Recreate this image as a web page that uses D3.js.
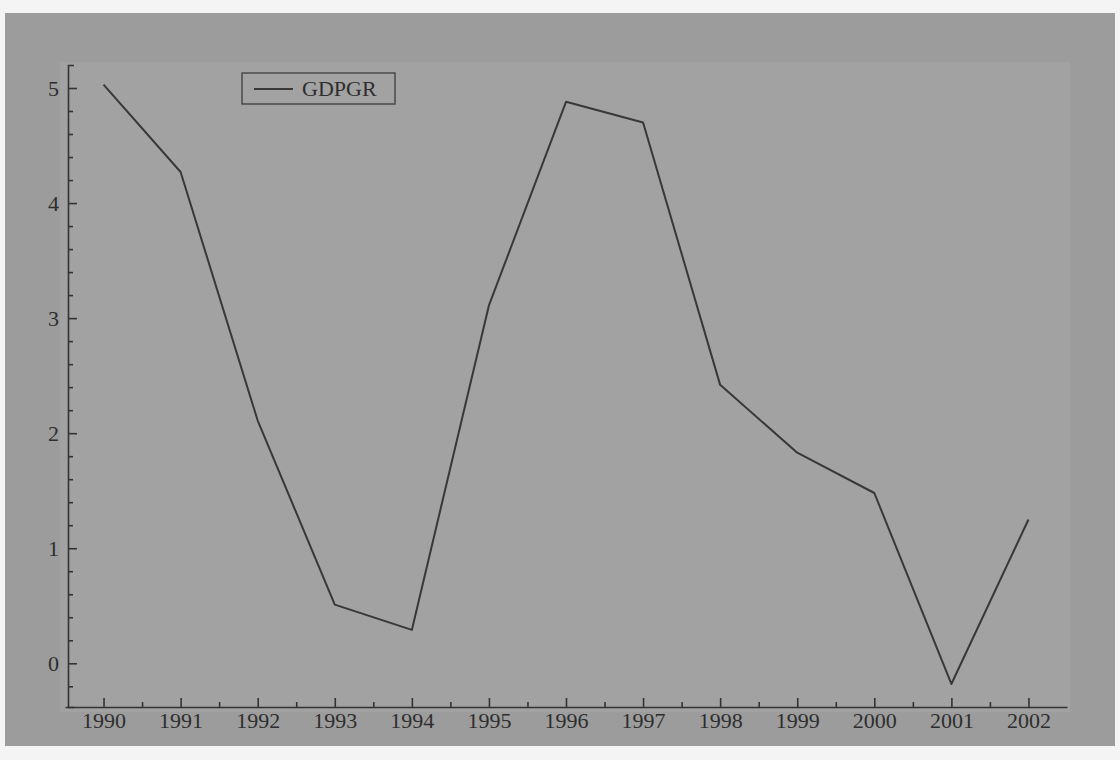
<!DOCTYPE html>
<html>
<head>
<meta charset="utf-8">
<script src="https://cdn.jsdelivr.net/npm/d3@7"></script>
<style>
  body { margin: 0; background: #f4f4f4; }
  svg text { font-family: "Liberation Serif", "DejaVu Serif", serif; fill: #2e2e2e; }
</style>
</head>
<body>
<div id="container"></div>
<script>
/* DATA */
const years = [1990, 1991, 1992, 1993, 1994, 1995, 1996, 1997, 1998, 1999, 2000, 2001, 2002];
const gdpgr = [5.03, 4.27, 2.11, 0.51, 0.29, 3.11, 4.88, 4.70, 2.42, 1.83, 1.48, -0.18, 1.25];
const seriesName = "GDPGR";
const yTicks = [0, 1, 2, 3, 4, 5];

/* CONSTANTS */
const width = 1120,
  height = 760,
  plot = { left: 68, right: 1070, top: 65, bottom: 707 };

const svg = d3.select("#container")
  .append("svg")
  .attr("width", width)
  .attr("height", height);

// scanned page background
svg.append("rect")
  .attr("x", 5).attr("y", 13)
  .attr("width", 1110).attr("height", 733)
  .attr("fill", "#9c9c9c");
svg.append("rect")
  .attr("x", 60).attr("y", 62)
  .attr("width", 1010).attr("height", 650)
  .attr("fill", "#a2a2a2");

/* SCALES */
const xScale = d3.scaleLinear()
  .domain([1989.5, 2002.5])
  .range([plot.left - 3, plot.right - 3]);

const yScale = d3.scaleLinear()
  .domain([-0.38, 5.2])
  .range([plot.bottom, plot.top]);

// x axis, ticks pointing inward
svg.append("g")
  .attr("transform", `translate(0, ${plot.bottom})`)
  .call(d3.axisBottom(xScale)
    .tickValues(years)
    .tickSize(-9)
    .tickSizeOuter(0)
    .tickPadding(5)
    .tickFormat(d3.format("d")));

svg.append("g")
  .attr("transform", `translate(0, ${plot.bottom})`)
  .call(d3.axisBottom(xScale)
    .tickValues(years.slice(0, -1).map(d => d + 0.5))
    .tickSize(-5)
    .tickSizeOuter(0)
    .tickFormat(""))
  .select(".domain").remove();

// y axis
svg.append("g")
  .attr("transform", `translate(${plot.left}, 0)`)
  .call(d3.axisLeft(yScale)
    .tickValues(yTicks)
    .tickSize(-9)
    .tickSizeOuter(-6)
    .tickPadding(9)
    .tickFormat(d3.format("d")));

svg.append("g")
  .attr("transform", `translate(${plot.left}, 0)`)
  .call(d3.axisLeft(yScale)
    .tickValues(d3.range(-0.2, 5.2, 0.2).filter(v => Math.abs(v - Math.round(v)) > 0.05))
    .tickSize(-5)
    .tickSizeOuter(0)
    .tickFormat(""))
  .select(".domain").remove();

svg.selectAll(".domain, .tick line")
  .attr("stroke", "#333")
  .attr("stroke-width", 1.6);

svg.selectAll(".tick text")
  .style("font-size", "22px")
  .style("font-family", "'Liberation Serif', serif")
  .attr("fill", "#2e2e2e");

/* LINE */
const line = d3.line()
  .x((d, i) => xScale(years[i]))
  .y(d => yScale(d));

svg.append("path")
  .datum(gdpgr)
  .attr("fill", "none")
  .attr("stroke", "#383838")
  .attr("stroke-width", 2)
  .attr("stroke-linejoin", "round")
  .attr("d", line);

/* LEGEND */
const legend = svg.append("g").attr("transform", "translate(242, 73)");
legend.append("rect")
  .attr("width", 153).attr("height", 31)
  .attr("fill", "none")
  .attr("stroke", "#444")
  .attr("stroke-width", 1.4);
legend.append("line")
  .attr("x1", 12).attr("x2", 51)
  .attr("y1", 16).attr("y2", 16)
  .attr("stroke", "#383838")
  .attr("stroke-width", 2);
legend.append("text")
  .attr("x", 60).attr("y", 23)
  .style("font-size", "22px")
  .text(seriesName);
</script>
</body>
</html>
